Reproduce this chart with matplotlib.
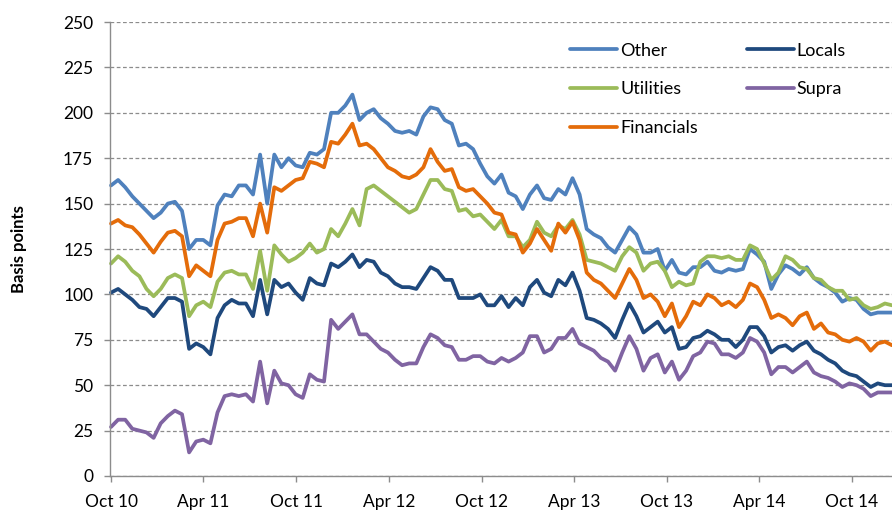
import matplotlib
matplotlib.use("Agg")
import matplotlib.pyplot as plt
import matplotlib.dates as mdates
import pandas as pd

plt.rcParams['font.family'] = ['Lato', 'DejaVu Sans']

# Fortnightly observations starting Oct 2010
dates = pd.date_range('2010-10-01', periods=111, freq='14D')

other = [160, 163, 159, 154, 150, 146, 142, 145, 150, 151, 146, 125, 130, 130, 127,
         149, 155, 154, 160, 160, 155, 177, 150, 177, 170, 175, 171, 170, 178, 177,
         180, 200, 200, 204, 210, 196, 200, 202, 197, 194, 190, 189, 190, 188, 198,
         203, 202, 196, 194, 182, 183, 180, 172, 165, 161, 166, 156, 154, 147, 155,
         160, 153, 152, 158, 155, 164, 155, 136, 133, 131, 126, 123, 130, 137, 133,
         123, 123, 125, 113, 119, 112, 111, 115, 115, 118, 113, 112, 114, 113, 114,
         125, 122, 118, 103, 111, 116, 114, 111, 115, 109, 106, 104, 101, 96, 98,
         97, 92, 89, 90, 90, 90]

locals_ = [101, 103, 100, 97, 93, 92, 88, 93, 98, 98, 96, 70, 73, 71, 67,
           87, 94, 97, 95, 95, 88, 108, 89, 108, 104, 106, 101, 97, 109, 106,
           105, 117, 115, 118, 122, 115, 119, 118, 112, 110, 106, 104, 104, 103, 109,
           115, 113, 108, 108, 98, 98, 98, 100, 94, 94, 99, 93, 98, 94, 104,
           108, 101, 99, 108, 105, 112, 102, 87, 86, 84, 81, 76, 86, 95, 88,
           79, 82, 85, 79, 82, 70, 71, 76, 77, 80, 78, 75, 75, 71, 75,
           82, 82, 77, 68, 71, 72, 69, 72, 74, 69, 67, 64, 62, 58, 56,
           55, 52, 49, 51, 50, 50]

utilities = [117, 121, 118, 113, 110, 103, 99, 103, 109, 111, 109, 88, 94, 96, 93,
             107, 112, 113, 111, 111, 103, 124, 102, 127, 122, 118, 120, 123, 128, 123,
             125, 136, 132, 139, 147, 138, 158, 160, 157, 154, 151, 148, 145, 147, 155,
             163, 163, 158, 157, 146, 147, 143, 144, 140, 136, 141, 132, 132, 126, 130,
             140, 134, 132, 138, 136, 141, 133, 119, 118, 117, 115, 113, 121, 126, 123,
             113, 117, 118, 113, 104, 107, 105, 106, 118, 121, 121, 120, 121, 119, 119,
             127, 125, 117, 108, 112, 121, 119, 115, 114, 109, 108, 104, 102, 102, 97,
             98, 94, 92, 93, 95, 94]

supra = [27, 31, 31, 26, 25, 24, 21, 29, 33, 36, 34, 13, 19, 20, 18,
         35, 44, 45, 44, 45, 41, 63, 40, 58, 51, 50, 45, 43, 56, 53,
         52, 86, 81, 85, 89, 78, 78, 74, 70, 68, 64, 61, 62, 62, 71,
         78, 76, 72, 71, 64, 64, 66, 66, 63, 62, 65, 63, 65, 68, 77,
         77, 68, 70, 76, 76, 81, 73, 71, 69, 65, 63, 58, 68, 77, 70,
         58, 65, 67, 57, 63, 53, 58, 66, 68, 74, 73, 67, 67, 65, 68,
         76, 74, 68, 56, 60, 60, 57, 60, 63, 57, 55, 54, 52, 49, 51,
         50, 48, 44, 46, 46, 46]

financials = [139, 141, 138, 137, 133, 128, 123, 129, 134, 135, 132, 110, 116, 113, 110,
              130, 139, 140, 142, 142, 132, 150, 134, 159, 157, 160, 163, 164, 173, 172,
              170, 184, 183, 188, 194, 182, 183, 180, 175, 170, 168, 165, 164, 166, 170,
              180, 173, 168, 169, 159, 157, 158, 154, 150, 145, 144, 134, 133, 123, 128,
              136, 130, 124, 139, 134, 140, 130, 112, 108, 106, 102, 98, 106, 114, 108,
              98, 100, 96, 88, 95, 82, 88, 96, 94, 100, 98, 94, 96, 93, 97,
              106, 104, 97, 87, 89, 87, 83, 88, 90, 81, 84, 79, 78, 75, 74,
              76, 74, 69, 73, 74, 72]

series_names = ['Other', 'Locals', 'Utilities', 'Supra', 'Financials']
series_values = [other, locals_, utilities, supra, financials]
series_colors = ['#4F81BD', '#1F497D', '#9BBB59', '#8064A2', '#E46C0A']

y_ticks = [0, 25, 50, 75, 100, 125, 150, 175, 200, 225, 250]

fig = plt.figure(figsize=(8.92, 5.14), dpi=100)
ax = fig.add_axes([110 / 892, 1 - 476 / 514, 1 - 110 / 892, (476 - 22) / 514])

lines = {}
for name, vals, col in zip(series_names, series_values, series_colors):
    ln, = ax.plot(dates, vals, color=col, lw=2.7, solid_joinstyle='round',
                  solid_capstyle='round', label=name, clip_on=False)
    lines[name] = ln

ax.set_ylim(0, 250)
ax.set_yticks(y_ticks)
ax.set_xlim(dates[0] - pd.Timedelta(days=2), dates[-1])
ax.xaxis.set_major_locator(mdates.MonthLocator(bymonth=[4, 10]))
ax.xaxis.set_major_formatter(mdates.DateFormatter('%b %y'))

ax.grid(axis='y', color='#8c8c8c', linestyle=(0, (3, 2)), linewidth=0.9)
ax.set_axisbelow(True)
for s in ['top', 'right']:
    ax.spines[s].set_visible(False)
for s in ['left', 'bottom']:
    ax.spines[s].set_color('#8c8c8c')
    ax.spines[s].set_linewidth(1.0)
ax.tick_params(axis='both', colors='#8c8c8c', labelcolor='black', labelsize=12.5,
               length=4, width=1.0, direction='out')
ax.tick_params(axis='y', pad=8)
ax.tick_params(axis='x', pad=9)

ax.set_ylabel('Basis points', fontsize=12, fontweight='bold')
ax.yaxis.set_label_coords(-0.106, 0.5)

order = ['Other', 'Utilities', 'Financials', 'Locals', 'Supra']
leg = ax.legend([lines[n] for n in order], order, ncol=2, frameon=False,
                loc='upper left', bbox_to_anchor=(0.568, 0.99), fontsize=13,
                handlelength=2.6, handletextpad=0.15, columnspacing=2.7,
                labelspacing=1.25)

fig.savefig('out.png', dpi=100)
